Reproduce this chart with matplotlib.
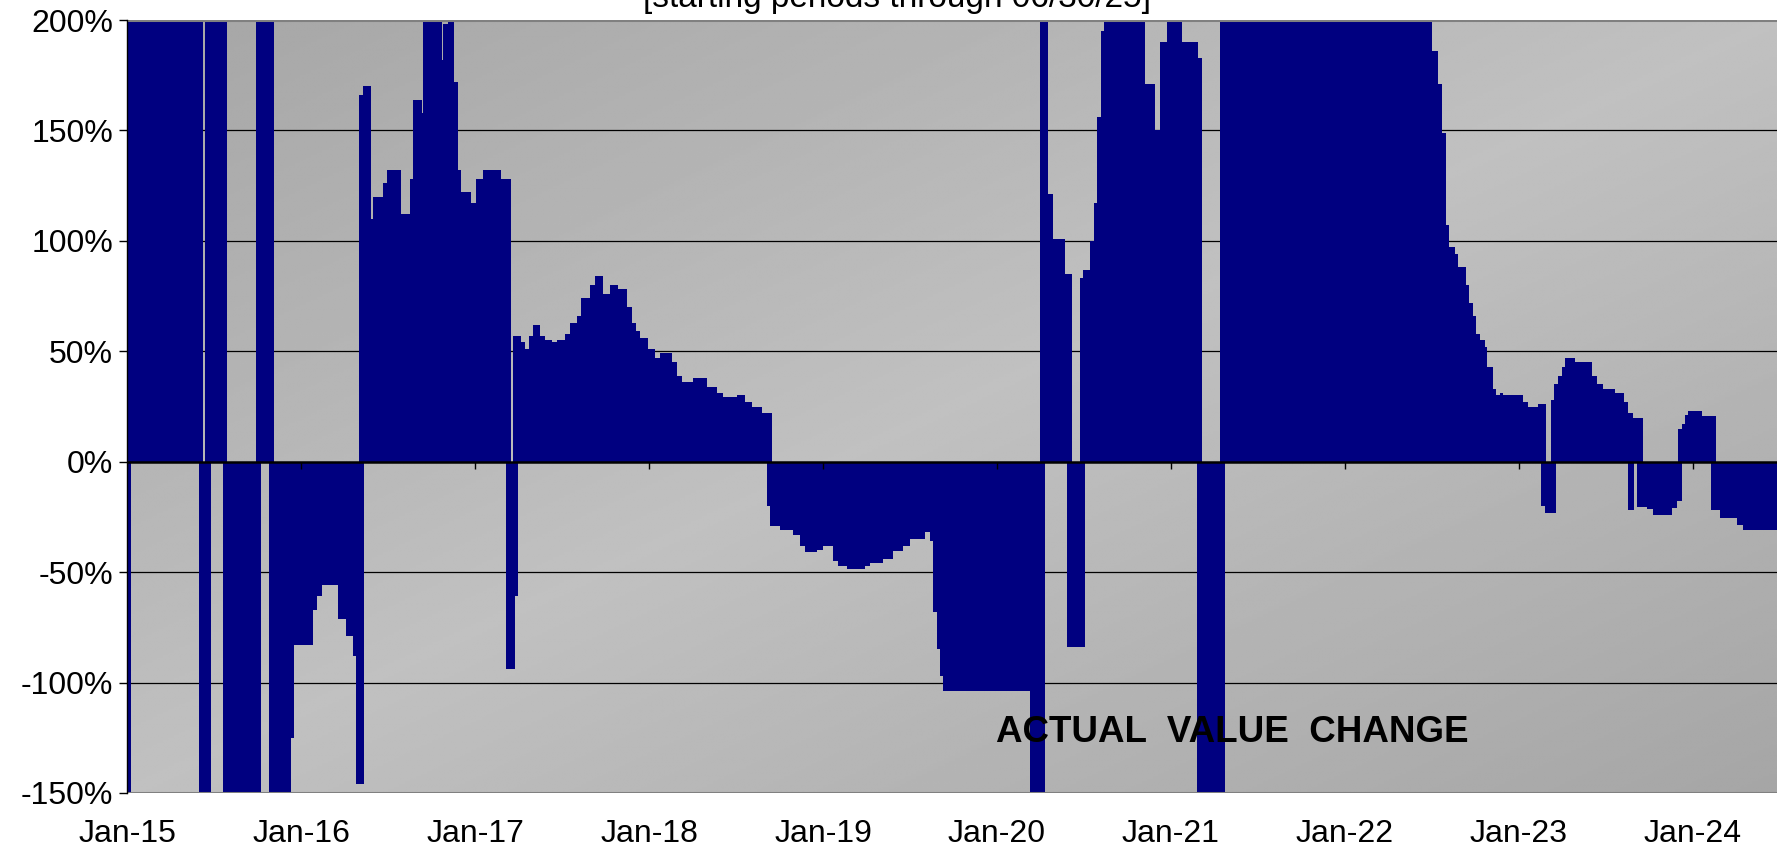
import numpy as np
import matplotlib.pyplot as plt
from matplotlib.ticker import FuncFormatter

plt.rcParams['font.family'] = ['Liberation Sans', 'DejaVu Sans']

# step edges (years after Jan-2015) and value change (%) for each step
# 250 / -200 mark values that run off the chart
up_t = [0, 0.439, 0.450, 0.576, 0.741, 0.845, 1.335, 1.358, 1.400, 1.416,
        1.473, 1.492, 1.573, 1.626, 1.646, 1.693, 1.703, 1.808, 1.818, 1.847,
        1.879, 1.904, 1.920, 1.975, 2.006, 2.048, 2.148, 2.205, 2.216, 2.264,
        2.287, 2.312, 2.335, 2.374, 2.402, 2.441, 2.469, 2.517, 2.546, 2.584,
        2.607, 2.661, 2.690, 2.738, 2.776, 2.824, 2.876, 2.900, 2.925, 2.948,
        2.996, 3.034, 3.063, 3.130, 3.159, 3.188, 3.255, 3.331, 3.389, 3.427,
        3.504, 3.552, 3.590, 3.648, 3.705, 5.247, 5.295, 5.320, 5.391, 5.429,
        5.477, 5.496, 5.534, 5.557, 5.577, 5.596, 5.615, 5.851, 5.908, 5.937,
        5.979, 6.061, 6.157, 6.176, 6.282, 7.502, 7.536, 7.556, 7.579, 7.598,
        7.632, 7.651, 7.694, 7.714, 7.733, 7.753, 7.776, 7.805, 7.818, 7.849,
        7.868, 7.891, 7.910, 8.025, 8.053, 8.111, 8.153, 8.184, 8.201, 8.226,
        8.245, 8.264, 8.322, 8.418, 8.447, 8.485, 8.552, 8.604, 8.628, 8.653,
        8.711, 8.911, 8.934, 8.954, 8.973, 9.050, 9.130, 9.483]
up_v = [250, 0, 250, 0, 250, 0, 166, 170, 110, 120,
        126, 132, 112, 128, 164, 158, 250, 182, 198, 250,
        172, 132, 122, 117, 128, 132, 128, 0, 57, 54,
        51, 57, 62, 57, 55, 54, 55, 58, 63, 66,
        74, 80, 84, 76, 80, 78, 70, 63, 59, 56,
        51, 47, 49, 45, 39, 36, 38, 34, 31, 29.5,
        30, 27, 25, 22, 0, 250, 121, 101, 85, 0,
        83, 87, 100, 117, 156, 195, 250, 171, 150, 190,
        250, 190, 183, 0, 250, 186, 171, 149, 107, 97,
        94, 88, 80, 72, 66, 58, 55, 52, 43, 33,
        30, 31, 30, 27, 25, 26, 0, 28, 35, 39,
        43, 47, 45, 39, 35, 33, 31, 27, 22, 20,
        0, 15, 17, 21, 23, 20.5, 0]

dn_t = [0, 0.023, 0.416, 0.483, 0.550, 0.768, 0.816, 0.941, 0.960, 1.071,
        1.094, 1.119, 1.214, 1.259, 1.297, 1.316, 1.362, 2.178, 2.230, 2.245,
        3.676, 3.695, 3.753, 3.830, 3.868, 3.897, 3.964, 4.002, 4.059, 4.088,
        4.136, 4.241, 4.270, 4.347, 4.404, 4.462, 4.500, 4.586, 4.615, 4.634,
        4.653, 4.672, 4.692, 5.190, 5.276, 5.400, 5.506, 6.148, 6.310, 8.125,
        8.149, 8.213, 8.625, 8.663, 8.680, 8.734, 8.772, 8.878, 8.906, 8.938,
        9.103, 9.155, 9.251, 9.289, 9.483]
dn_v = [-200, 0, -200, 0, -200, 0, -200, -125, -83, -67,
        -61, -56, -71, -79, -88, -146, 0, -94, -61, 0,
        -20, -29, -31, -33, -38, -41, -40, -38, -45, -47,
        -48.5, -47, -46, -44, -40.5, -38, -35, -32, -36, -68,
        -85, -97, -104, -200, 0, -84, 0, -200, 0, -20,
        -23, 0, -22, 0, -20.5, -21.5, -24, -21, -18, 0,
        -22, -25.5, -28.5, -31]

years = list(range(2015, 2025))
year_labels = ['Jan-%02d' % (y % 100) for y in years]
y_ticks = [-150, -100, -50, 0, 50, 100, 150, 200]

navy = '#000080'

fig = plt.figure(figsize=(17.77, 8.48), dpi=100)
ax = fig.add_axes([127 / 1777, 55 / 848, 1650 / 1777, 773 / 848])

# gray diagonal gradient behind the plot
u, v = np.meshgrid(np.linspace(0, 1, 300), np.linspace(0, 1, 300))
shade = 0.755 - 0.105 * np.abs(u - v)
ax.imshow(shade, cmap='gray', vmin=0, vmax=1, extent=[0, 1, 0, 1],
          transform=ax.transAxes, aspect='auto', origin='lower',
          interpolation='bilinear', zorder=0)

for g in [-100, -50, 50, 100, 150]:
    ax.axhline(g, color='black', lw=0.9, zorder=1)
ax.axhline(200, color='#808080', lw=2.2, zorder=4)
ax.axhline(-150, color='#808080', lw=2.2, zorder=4)

for t, vals in [(up_t, up_v), (dn_t, dn_v)]:
    ax.stairs(vals, 2015 + np.array(t), baseline=0, fill=True,
              color=navy, zorder=2)

ax.axhline(0, color='black', lw=1.8, zorder=3)
ax.plot(years, np.zeros(len(years)), linestyle='none', marker=3, ms=5,
        mew=1, color='black', zorder=3)

ax.text(2015 + 6.35, -127, 'ACTUAL  VALUE  CHANGE', ha='center', va='baseline',
        fontsize=26.5, fontweight='bold', color='black', zorder=5)

ax.set_xlim(2015, 2015 + 1650 / 174)
ax.set_ylim(-150, 200)
ax.set_xticks(years)
ax.set_xticklabels(year_labels)
ax.set_yticks(y_ticks)
ax.yaxis.set_major_formatter(FuncFormatter(lambda val, pos: '%d%%' % val))
ax.tick_params(axis='x', length=0, pad=19, labelsize=23)
ax.tick_params(axis='y', length=6, width=1, direction='out', pad=4, labelsize=23)

for side in ['top', 'right', 'bottom']:
    ax.spines[side].set_visible(False)
ax.spines['left'].set_color('black')
ax.spines['left'].set_linewidth(1)
ax.spines['left'].set_zorder(5)

# heading sits partly above the top edge, as in the source chart
fig.text(0.505, 1 - 7 / 848, '[starting periods through 06/30/25]',
         ha='center', va='baseline', fontsize=24)

fig.savefig('out.png', dpi=100)
